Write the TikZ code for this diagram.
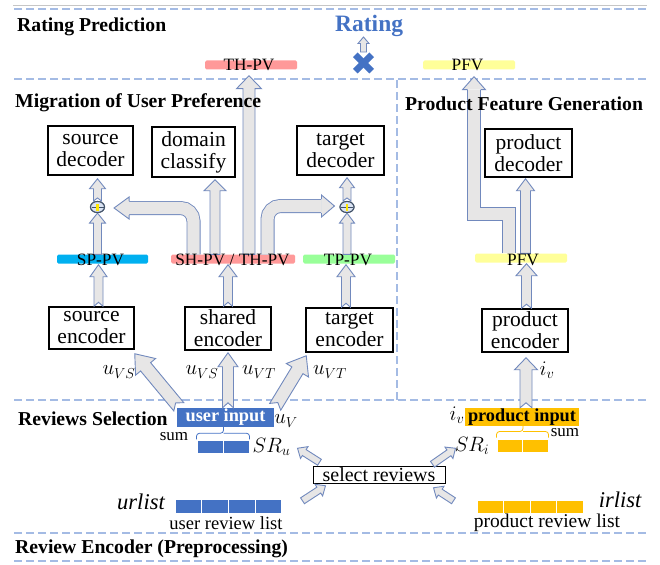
\documentclass[tikz,border=0pt]{standalone}
\usepackage{fontspec}
\setmainfont{Liberation Serif}
\usetikzlibrary{calc,shapes.geometric}

\definecolor{dashblue}{HTML}{A4BBE4}
\definecolor{arfill}{HTML}{E7E6E6}
\definecolor{arline}{HTML}{7189BD}
\definecolor{msblue}{HTML}{4472C4}
\definecolor{msorange}{HTML}{FFC000}
\definecolor{pvpink}{HTML}{FF9999}
\definecolor{pvcyan}{HTML}{00B0F0}
\definecolor{pvgreen}{HTML}{99FF99}
\definecolor{pvyellow}{HTML}{FFFF99}
\definecolor{opline}{HTML}{44546A}
\definecolor{opfill}{HTML}{DAE3F3}

\newcommand\fs[1]{\fontsize{#1}{#1}\selectfont}

% straight block arrow: [opts]{tail}{tip}{body half width}{head half width}{head length}{tail notch}
\newcommand\blockarrow[7][]{%
  \coordinate (ba-base) at ($(#3)!#6!(#2)$);
  \filldraw[blockar,#1] ($(#2)!#4!90:(#3)$) -- ($(ba-base)!#4!90:(#3)$)
    -- ($(ba-base)!#5!90:(#3)$) -- (#3) -- ($(ba-base)!#5!-90:(#3)$)
    -- ($(ba-base)!#4!-90:(#3)$) -- ($(#2)!#4!-90:(#3)$) -- ($(#2)!#7!(#3)$) -- cycle;
}
% head of a bent block arrow: {head base centre}{tip}{body half width}{head half width}
\newcommand\blockhead[4]{%
  \fill[arfill] ($(#1)!#3!90:(#2)$) -- ($(#1)!#4!90:(#2)$) -- (#2)
    -- ($(#1)!#4!-90:(#2)$) -- ($(#1)!#3!-90:(#2)$) -- cycle;
  \draw[draw=arline, line width=0.9, line join=miter] ($(#1)!#3!90:(#2)$) -- ($(#1)!#4!90:(#2)$) -- (#2)
    -- ($(#1)!#4!-90:(#2)$) -- ($(#1)!#3!-90:(#2)$);
}

\begin{document}
\begin{tikzpicture}[x=1pt,y=-1pt,
  blockar/.style={fill=arfill, draw=arline, line width=0.9, line join=miter},
  bentbody/.style={draw=arline, line width=0.9, double=arfill, double distance=12.2},
  box/.style={draw, line width=1.5, inner sep=0, align=center, font=\fontsize{21.5}{22}\selectfont},
  bar/.style={rectangle, rounded corners=1.5, inner sep=0, minimum height=9},
  pvtext/.style={anchor=base, inner sep=0, font=\fs{17.3}},
  sect/.style={anchor=base west, inner sep=0, font=\bfseries\fs{19.7}},
  sep/.style={draw=dashblue, line width=2.2, dash pattern=on 8 off 4},
  mlbl/.style={inner sep=0, font=\fs{20}},
  cell/.style={rectangle, inner sep=0, draw=white, line width=1},
  oplus/.style={ellipse, draw=opline, fill=opfill, line width=1.1, minimum width=14, minimum height=11, inner sep=0},
]
\useasboundingbox (0,0) rectangle (660,564);

% ---------- layer separators ----------
\draw[gray!45, line width=0.6] (13,5) -- (647,5);
\draw[sep] (14,9) -- (648,9);
\draw[sep] (14,79) -- (648,79);
\draw[sep] (397,80) -- (397,400);
\draw[sep] (14,400) -- (648,400);
\draw[sep] (14,533) -- (648,533);
\draw[sep] (14,561) -- (648,561);

% ---------- rating ----------
\node[anchor=base west, inner sep=0, font=\bfseries\fs{23.5}, text=msblue] (rating) at (335,32) {Rating};
\coordinate (xm) at (363.5,63);
\draw[msblue, line width=6.5] ($(xm)+(-8.2,-8.2)$) -- ($(xm)+(8.2,8.2)$);
\draw[msblue, line width=6.5] ($(xm)+(-8.2,8.2)$) -- ($(xm)+(8.2,-8.2)$);
\coordinate (xmtop) at ($(xm)+(0,-11)$);
\coordinate (rtip) at (363.5,37);
\blockarrow{xmtop}{rtip}{3pt}{5.5pt}{6.5pt}{0pt}

% ---------- prediction vectors (top) ----------
\node[bar, fill=pvpink, minimum width=92] (thtop) at (251,65) {};
\node[bar, fill=pvyellow, minimum width=92] (pfvtop) at (469,65) {};

% ---------- decoders ----------
\node[box, minimum width=85, minimum height=49] (srcdec) at (90.5,150.5) {source\\decoder};
\node[box, minimum width=83, minimum height=50] (domcls) at (193.5,152) {domain\\classify};
\node[box, minimum width=87, minimum height=49] (tgtdec) at (340.5,150.5) {target\\decoder};
\node[box, minimum width=87, minimum height=48] (prddec) at (528.5,153) {product\\decoder};

% ---------- merge points ----------
\node[oplus] (opS) at (97.5,207) {};
\node[oplus] (opT) at (347,207) {};

% ---------- prediction vectors (middle) ----------
\node[bar, fill=pvcyan, minimum width=91] (sppv) at (102.5,259) {};
\node[bar, fill=pvpink, minimum width=124] (shpv) at (233,259) {};
\node[bar, fill=pvgreen, minimum width=92] (tppv) at (349,259) {};
\node[bar, fill=pvyellow, minimum width=92] (pfvlow) at (521,258) {};

% ---------- encoders ----------
\node[box, minimum width=85, minimum height=42] (srcenc) at (91.5,328) {source\\encoder};
\node[box, minimum width=86, minimum height=43] (shenc) at (228,328.5) {shared\\encoder};
\node[box, minimum width=87, minimum height=44] (tgtenc) at (349.5,330) {target\\encoder};
\node[box, minimum width=86, minimum height=43] (prdenc) at (525,330.5) {product\\encoder};

% ---------- inputs ----------
\node[fill=msblue, text=white, inner sep=0, minimum width=97, minimum height=19, font=\bfseries\fs{18.3}] (uin) at (225.5,417.5) {user input};
\node[fill=msorange, inner sep=0, minimum width=114, minimum height=18, font=\bfseries\fs{18.3}] (pin) at (522,417) {product input};

% selected reviews
\node[cell, fill=msblue, minimum width=26, minimum height=12.5] (su1) at (210,447) {};
\node[cell, fill=msblue, minimum width=26, minimum height=12.5] (su2) at (236,447) {};
\node[cell, fill=msorange, minimum width=25.5, minimum height=13] (sp1) at (509.75,445.5) {};
\node[cell, fill=msorange, minimum width=25.5, minimum height=13] (sp2) at (535.25,445.5) {};

% review lists
\foreach \i/\x in {1/188.4,2/215.1,3/241.9,4/268.6}
  \node[cell, fill=msblue, minimum width=26.75, minimum height=14] (ul\i) at (\x,506) {};
\foreach \i/\x in {1/490.25,2/516.75,3/543.25,4/569.75}
  \node[cell, fill=msorange, minimum width=26.5, minimum height=13] (il\i) at (\x,506.5) {};

\node[draw, line width=1, inner sep=0, minimum width=132, minimum height=16.5, font=\fs{20}] (selrev) at (379,475) {select reviews};

% ---------- straight arrows ----------
\coordinate (a1t) at (sppv.north -| opS);
\blockarrow{a1t}{opS.south}{4pt}{8pt}{10pt}{0pt}
\coordinate (a2h) at ($(srcdec.south -| opS)+(0,3)$);
\blockarrow{opS.north}{a2h}{4pt}{8pt}{10pt}{3pt}
\coordinate (a3t) at (tppv.north -| opT);
\blockarrow{a3t}{opT.south}{4pt}{7.5pt}{10pt}{0pt}
\coordinate (a4h) at ($(tgtdec.south -| opT)+(0,2)$);
\blockarrow{opT.north}{a4h}{4pt}{7.5pt}{10pt}{3pt}
\coordinate (a5t) at ($(shpv.north)+(-18,0)$);
\coordinate (a5h) at ($(domcls.south)+(21.5,2)$);
\blockarrow{a5t}{a5h}{5pt}{11pt}{11pt}{0pt}
\coordinate (a6t) at ($(shpv.north)+(16,0)$);
\coordinate (a6h) at ($(thtop.south)+(-2,6)$);
\blockarrow{a6t}{a6h}{6pt}{12.5pt}{13pt}{0pt}
\coordinate (a10t) at ($(pfvlow.north)+(4.5,0)$);
\coordinate (a10h) at ($(prddec.south)+(-3,1)$);
\blockarrow{a10t}{a10h}{5pt}{9pt}{12pt}{0pt}

\coordinate (a11t) at ($(srcenc.north)+(7,0)$);
\coordinate (a11h) at ($(sppv.south)+(-4,1)$);
\blockarrow{a11t}{a11h}{4.5pt}{8.5pt}{12pt}{4pt}
\coordinate (a12t) at (shenc.north);
\coordinate (a12h) at ($(shpv.south)+(-5,1)$);
\blockarrow{a12t}{a12h}{4.5pt}{9pt}{12pt}{4pt}
\coordinate (a13t) at ($(tgtenc.north)+(-3.5,0)$);
\coordinate (a13h) at ($(tppv.south)+(-3,1)$);
\blockarrow{a13t}{a13h}{4.5pt}{9pt}{12pt}{4pt}
\coordinate (a14t) at ($(prdenc.north)+(1.5,0)$);
\coordinate (a14h) at ($(pfvlow.south)+(5.5,1)$);
\blockarrow{a14t}{a14h}{5pt}{10.5pt}{12pt}{4pt}

\coordinate (a15t) at ($(pin.north)+(4,0)$);
\coordinate (a15h) at ($(prdenc.south)+(1,5)$);
\blockarrow{a15t}{a15h}{6pt}{11.5pt}{12pt}{5pt}
\coordinate (a16t) at ($(uin.north)+(2.5,0)$);
\coordinate (a16h) at ($(shenc.south)+(0,2)$);
\blockarrow{a16t}{a16h}{5.5pt}{10pt}{14pt}{5pt}
\coordinate (a17t) at ($(uin.north west)+(2,-1)$);
\coordinate (a17h) at ($(srcenc.south east)+(0,4)$);
\blockarrow{a17t}{a17h}{6.5pt}{13pt}{17pt}{5pt}
\coordinate (a18t) at ($(uin.north east)+(1,-1)$);
\coordinate (a18h) at ($(tgtenc.south west)+(1,3)$);
\blockarrow{a18t}{a18h}{6.5pt}{13pt}{17pt}{5pt}

% ---------- bent arrows ----------
\coordinate (lb0) at ($(shpv.north)+(-39.5,0)$);
\coordinate (lbtip) at ($(opS.east)+(9,1)$);
\coordinate (lbbase) at ($(lbtip)+(15,0)$);
\draw[bentbody, rounded corners=13] (lb0) |- (lbbase);
\blockhead{lbbase}{lbtip}{7pt}{11pt}

\coordinate (rb0) at ($(shpv.north)+(34.5,0)$);
\coordinate (rbtip) at ($(opT.west)+(-5,-1)$);
\coordinate (rbbase) at ($(rbtip)+(-13,0)$);
\draw[bentbody, rounded corners=13] (rb0) |- (rbbase);
\blockhead{rbbase}{rbtip}{7pt}{11pt}

\coordinate (pf0) at ($(pfvlow.north)+(-12,0)$);
\coordinate (pftip) at ($(pfvtop.south)+(5,7)$);
\coordinate (pfbase) at ($(pftip)+(0,13)$);
\coordinate (pfbend) at (pftip |- 0,214);
\draw[bentbody] (pf0) |- (pfbend) -- (pfbase);
\blockhead{pfbase}{pftip}{6.5pt}{11.5pt}

% ---------- small arrows around review selection ----------
\coordinate (s1t) at ($(selrev.north west)+(7,-4)$);
\coordinate (s1h) at ($(selrev.north west)+(-15,-18)$);
\blockarrow{s1t}{s1h}{3.5pt}{7pt}{8pt}{0pt}
\coordinate (s2t) at ($(selrev.north east)+(-13,-2)$);
\coordinate (s2h) at ($(selrev.north east)+(10,-18)$);
\blockarrow{s2t}{s2h}{3.5pt}{7pt}{8pt}{0pt}
\coordinate (s3t) at ($(selrev.south west)+(-10,17)$);
\coordinate (s3h) at ($(selrev.south west)+(13,2)$);
\blockarrow{s3t}{s3h}{3.5pt}{7pt}{8pt}{0pt}
\coordinate (s4t) at ($(selrev.south east)+(8,17)$);
\coordinate (s4h) at ($(selrev.south east)+(-12,4)$);
\blockarrow{s4t}{s4h}{3.5pt}{7pt}{8pt}{0pt}

% ---------- merge symbols on top ----------
\foreach \o in {opS,opT}{
  \node[oplus] at (\o) {};
  \draw[opline, line width=0.8] ($(\o)+(-6,0)$) -- ($(\o)+(6,0)$);
  \fill[yellow!90!orange] ($(\o)+(-1.3,-3.5)$) rectangle ($(\o)+(1.3,3.5)$);
}

% ---------- section titles (over the arrows) ----------
\node[sect] (secrp) at (17,32) {Rating Prediction};
\node[sect] (secmig) at (15,108) {Migration of User Preference};
\node[sect] (secpfg) at (405,111) {Product Feature Generation};
\node[sect] (secrs) at (18,425) {Reviews Selection};
\node[sect] (secre) at (15,553) {Review Encoder (Preprocessing)};

% ---------- vector labels ----------
\node[pvtext] (thtopt) at (249,70.5) {TH-PV};
\node[pvtext] (pfvtopt) at (467.5,70.5) {PFV};
\node[pvtext] (sppvt) at (100.5,265.5) {SP-PV};
\node[pvtext] (shpvt) at (232.5,265.5) {SH-PV / TH-PV};
\node[pvtext] (tppvt) at (348,265.5) {TP-PV};
\node[pvtext] (pfvlowt) at (523,265.5) {PFV};

% ---------- math labels ----------
\node[mlbl] (luvs1) at (119,372) {$u_{VS}$};
\node[mlbl] (luvs2) at (202,372) {$u_{VS}$};
\node[mlbl] (luvt1) at (259,372) {$u_{VT}$};
\node[mlbl] (luvt2) at (330,372) {$u_{VT}$};
\node[mlbl] (liv1) at (547,370) {$i_v$};
\node[mlbl] (luv) at (286,421) {$u_V$};
\node[mlbl] (liv2) at (457,415) {$i_v$};
\node[mlbl] (lsru) at (271.5,447) {$SR_u$};
\node[mlbl] (lsri) at (472,446) {$SR_i$};

% ---------- braces (sum) ----------
\coordinate (bu) at (su1.north east);
\draw[msblue, line width=0.8, rounded corners=3] ($(su1.north west)+(0,-1)$) |- ($(bu)+(0,-7)$) -- (bu |- uin.south);
\draw[msblue, line width=0.8, rounded corners=3] ($(su2.north east)+(0,-1)$) |- ($(bu)+(0,-7)$);
\coordinate (bp) at (sp1.north east);
\draw[msorange, line width=0.8, rounded corners=3] ($(sp1.north west)+(0,-1)$) |- ($(bp)+(0,-7)$) -- (bp |- pin.south);
\draw[msorange, line width=0.8, rounded corners=3] ($(sp2.north east)+(0,-1)$) |- ($(bp)+(0,-7)$);
\node[inner sep=0, font=\fs{17}] (sumu) at (174,437) {sum};
\node[inner sep=0, font=\fs{17}] (sump) at (565,433) {sum};

% ---------- list labels ----------
\node[inner sep=0, font=\itshape\fs{22.5}] (urlist) at (141,502) {urlist};
\node[inner sep=0, font=\itshape\fs{22.5}] (irlist) at (620,500) {irlist};
\node[inner sep=0, font=\fs{18.5}] (urlt) at (226,523) {user review list};
\node[inner sep=0, font=\fs{19.5}] (irlt) at (547,523) {product review list};
\end{tikzpicture}
\end{document}
